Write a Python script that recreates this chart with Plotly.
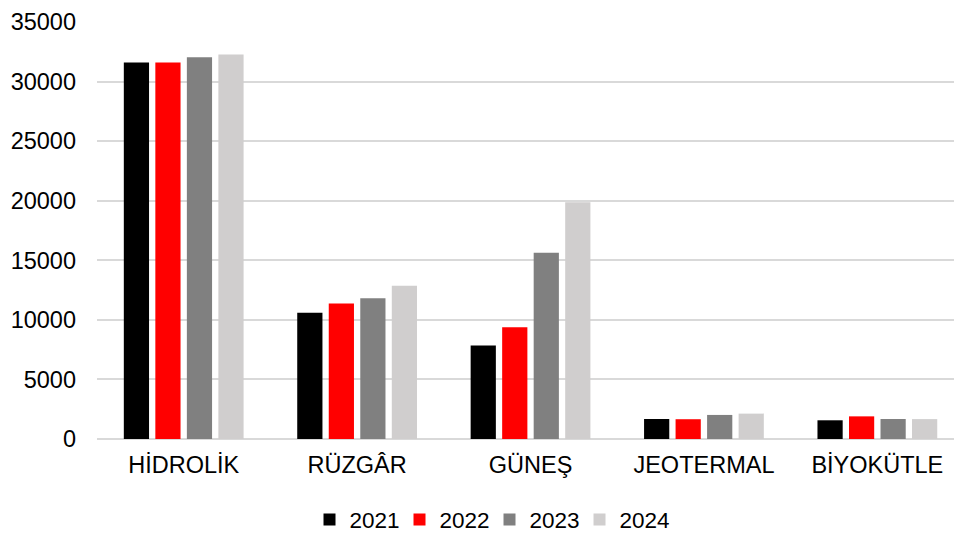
import plotly.graph_objects as go

categories = ["HİDROLİK", "RÜZGÂR", "GÜNEŞ", "JEOTERMAL", "BİYOKÜTLE"]
years = ["2021", "2022", "2023", "2024"]
values_2021 = [31600, 10590, 7840, 1680, 1570]
values_2022 = [31600, 11370, 9380, 1660, 1900]
values_2023 = [32040, 11820, 15630, 2020, 1680]
values_2024 = [32270, 12860, 19880, 2130, 1670]
series = [values_2021, values_2022, values_2023, values_2024]
colors = ["#000000", "#FF0000", "#808080", "#D0CECE"]
y_ticks = [0, 5000, 10000, 15000, 20000, 25000, 30000, 35000]

fig = go.Figure()
for name, vals, col in zip(years, series, colors):
    fig.add_trace(go.Bar(
        x=categories, y=vals, name=name,
        marker=dict(color=col, line=dict(width=0)),
    ))

axis_font = dict(family="Liberation Sans, Arial, sans-serif", size=23.5, color="#000000")
legend_font = dict(family="Liberation Sans, Arial, sans-serif", size=22.5, color="#000000")

fig.update_layout(
    width=954, height=534,
    margin=dict(l=97, r=0, t=22, b=95, autoexpand=False),
    paper_bgcolor="white", plot_bgcolor="white",
    barmode="group", bargap=0.273, bargroupgap=0.2,
    font=axis_font,
    showlegend=True,
    legend=dict(
        orientation="h", x=0.458, xanchor="center", y=-0.194, yanchor="middle",
        font=legend_font, traceorder="normal",
        entrywidth=45, entrywidthmode="pixels",
    ),
    xaxis=dict(
        range=[-0.5, 4.442], showgrid=False, zeroline=False, automargin=False,
        showline=False, ticks="", tickfont=axis_font, ticklabelstandoff=9,
    ),
    yaxis=dict(
        range=[0, 35000], tickvals=y_ticks, ticktext=[str(v) for v in y_ticks],
        showgrid=True, gridcolor="#D9D9D9", gridwidth=1.5, automargin=False,
        zeroline=True, zerolinecolor="#D9D9D9", zerolinewidth=1.5,
        showline=False, ticks="", tickfont=axis_font, ticklabelstandoff=20,
    ),
)

fig.write_html("out.html")
